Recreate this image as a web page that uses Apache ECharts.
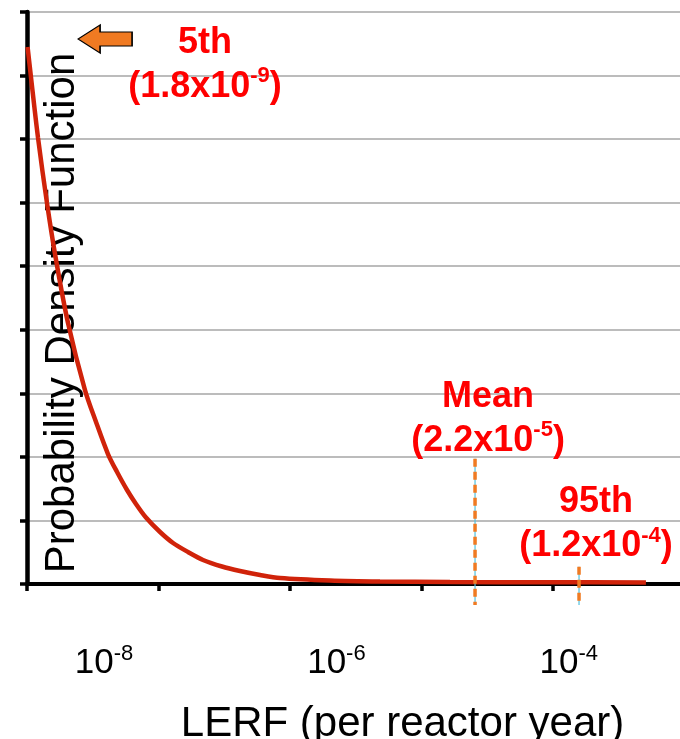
<!DOCTYPE html>
<html><head><meta charset="utf-8">
<script src="https://cdn.jsdelivr.net/npm/echarts@6/dist/echarts.min.js"></script>
<style>html,body{margin:0;padding:0;background:#fff}#c{width:680px;height:739px}</style>
</head><body><div id="c"></div>
<script>
// PDF curve, x in log10(LERF), y in gridline units
const curveLogX = [-8.658, -8.628, -8.568, -8.491, -8.413, -8.310, -8.164, -8.069, -7.966, -7.888, -7.802, -7.725, -7.639, -7.518, -7.406, -7.277, -7.148, -6.985, -6.830, -6.657, -6.485, -6.055, -5.625, -5.022, -4.162, -3.336];
const curvePdf  = [8.449, 7.961, 7.017, 5.994, 5.098, 4.106, 3.052, 2.549, 2.045, 1.762, 1.479, 1.259, 1.046, 0.818, 0.645, 0.503, 0.378, 0.275, 0.205, 0.142, 0.094, 0.055, 0.039, 0.031, 0.027, 0.024];

// x-axis tick labels (powers of ten)
const tickLabelExponents = [-8, -6, -4];
// decorative tick marks on the x axis (tick-axis units)
const tickMarks = [0, 1, 2, 3, 4];

// percentile marker lines (log10 position, top, bottom)
const meanLogX = -4.807;
const meanLineY = [1.97, -0.33];
const p95LogX = -3.912;
const p95LineY = [0.27, -0.33];

// 5th percentile arrow (off-chart to the left)
const arrowPos = [-7.991, 8.575];

// annotations
const annotNames = ['5th', 'Mean', '95th'];
const annotMantissa = ['1.8', '2.2', '1.2'];
const annotExponent = ['-9', '-5', '-4'];
const annotX = [-7.131, -4.695, -3.766];
const annotY = [8.16, 2.597, 0.936];

const FONT = "'Liberation Sans', Arial, sans-serif";
const chart = echarts.init(document.getElementById('c'), null, {renderer: 'canvas'});

const sup = (e) => '{b|10}{s|' + e + '}';

chart.setOption({
  backgroundColor: '#fff',
  animation: false,
  grid: {left: 27, right: 0, top: 12, bottom: 155, containLabel: false, outerBoundsMode: 'none'},
  xAxis: [
    {
      type: 'value', position: 'bottom', min: -8.663, max: -3.043,
      axisLine: {show: false}, axisTick: {show: false}, splitLine: {show: false},
      axisLabel: {
        show: true, customValues: tickLabelExponents, margin: 59,
        formatter: (v) => sup(String(Math.round(v))),
        rich: {
          b: {fontSize: 35, fontFamily: FONT, color: '#000', lineHeight: 40},
          s: {fontSize: 22, fontFamily: FONT, color: '#000', lineHeight: 26, verticalAlign: 'top'}
        }
      },
      name: 'LERF (per reactor year)', nameLocation: 'middle', nameGap: 119,
      nameTextStyle: {fontSize: 42, fontFamily: FONT, color: '#000', padding: [0, 0, 0, 98]}
    },
    {
      type: 'value', position: 'bottom', min: 0, max: 4.966, interval: 1,
      axisLine: {show: true, lineStyle: {color: '#000', width: 4}},
      axisTick: {show: true, inside: false, length: 7, lineStyle: {color: '#000', width: 3.5}, customValues: tickMarks},
      axisLabel: {show: false}, splitLine: {show: false}
    }
  ],
  yAxis: {
    type: 'value', position: 'left', min: 0, max: 9, interval: 1,
    axisLine: {show: true, lineStyle: {color: '#000', width: 4.5}},
    axisTick: {show: true, inside: false, length: 7, lineStyle: {color: '#000', width: 3.5}},
    axisLabel: {show: false},
    splitLine: {show: true, lineStyle: {color: '#A6A6A6', width: 1.5}},
    name: 'Probability Density Function', nameLocation: 'middle', nameRotate: 90, nameGap: -56,
    nameTextStyle: {fontSize: 42, fontFamily: FONT, color: '#000', padding: [0, 30, 0, 0]}
  },
  series: [
    {
      type: 'line', xAxisIndex: 0, data: curveLogX.map((x, i) => [x, curvePdf[i]]),
      smooth: 0.3, showSymbol: false, symbol: 'none', z: 3,
      lineStyle: {color: '#D0230A', width: 4.5}
    },
    {type: 'line', xAxisIndex: 0, clip: false, symbol: 'none', z: 4,
     data: meanLineY.map(y => [meanLogX, y]), lineStyle: {color: '#4FC1E0', width: 1.2}},
    {type: 'line', xAxisIndex: 0, clip: false, symbol: 'none', z: 5,
     data: meanLineY.map(y => [meanLogX, y]), lineStyle: {color: '#F07A22', width: 3.5, type: [8, 5]}},
    {type: 'line', xAxisIndex: 0, clip: false, symbol: 'none', z: 4,
     data: p95LineY.map(y => [p95LogX, y]), lineStyle: {color: '#4FC1E0', width: 1.2}},
    {type: 'line', xAxisIndex: 0, clip: false, symbol: 'none', z: 5,
     data: p95LineY.map(y => [p95LogX, y]), lineStyle: {color: '#F07A22', width: 3.5, type: [8, 5]}},
    {
      type: 'scatter', xAxisIndex: 0, clip: false, z: 6,
      data: [arrowPos],
      symbol: 'path://M0,14 L22,0 L22,7 L54,7 L54,21 L22,21 L22,28 Z',
      symbolSize: [54, 28],
      itemStyle: {color: '#F07A22', borderColor: '#000', borderWidth: 1.2, opacity: 1}
    },
    {
      type: 'scatter', xAxisIndex: 0, clip: false, z: 7, symbolSize: 0,
      data: annotX.map((x, i) => ({value: [x, annotY[i]]})),
      itemStyle: {opacity: 1},
      label: {
        show: true, position: 'inside', align: 'center', verticalAlign: 'middle',
        formatter: (p) => {
          const i = p.dataIndex;
          return '{t|' + annotNames[i] + '}\n{t|(' + annotMantissa[i] + 'x10}{s|' + annotExponent[i] + '}{t|)}';
        },
        rich: {
          t: {fontSize: 36, fontWeight: 'bold', fontFamily: FONT, color: '#FF0000', lineHeight: 44},
          s: {fontSize: 22, fontWeight: 'bold', fontFamily: FONT, color: '#FF0000', lineHeight: 30, verticalAlign: 'top'}
        }
      }
    }
  ]
});
</script>
</body></html>
